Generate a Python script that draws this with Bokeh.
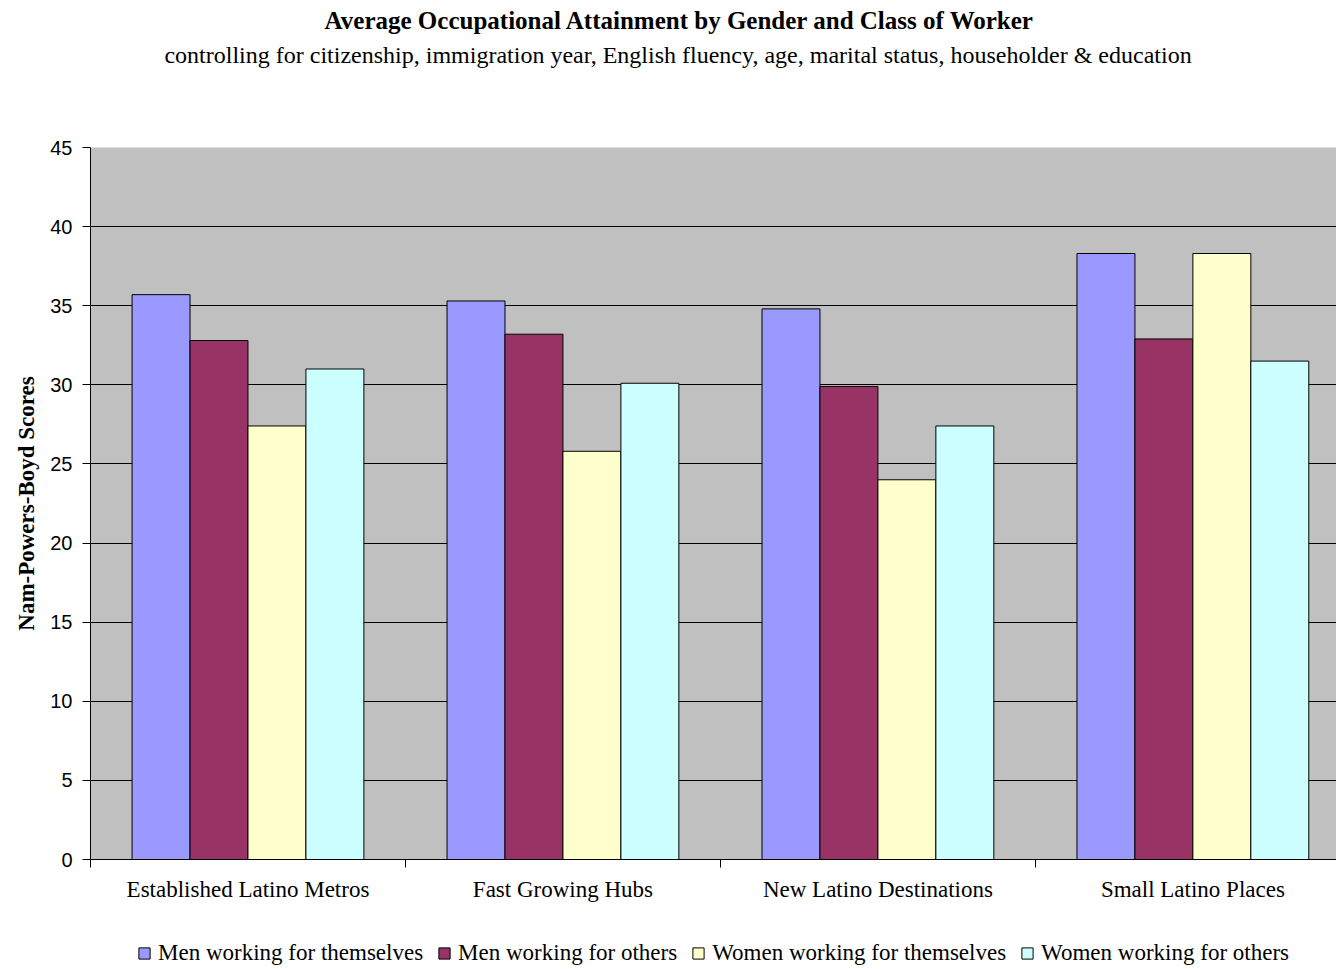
import numpy as np
from bokeh.plotting import figure
from bokeh.layouts import column
from bokeh.models import (ColumnDataSource, Range1d, FixedTicker, Legend,
                          LegendItem, Label)
from bokeh.transform import dodge
from bokeh.embed import file_html
from bokeh.resources import INLINE

categories = ["Established Latino Metros", "Fast Growing Hubs",
              "New Latino Destinations", "Small Latino Places"]
series_names = ["Men working for themselves", "Men working for others",
                "Women working for themselves", "Women working for others"]
men_self = [35.7, 35.3, 34.8, 38.3]
men_others = [32.8, 33.2, 29.9, 32.9]
women_self = [27.4, 25.8, 24.0, 38.3]
women_others = [31.0, 30.1, 27.4, 31.5]
colors = ["#9999FF", "#993366", "#FFFFCC", "#CCFFFF"]
y_ticks = [0, 5, 10, 15, 20, 25, 30, 35, 40, 45]

title_text = "Average Occupational Attainment by Gender and Class of Worker"
subtitle_text = ("controlling for citizenship, immigration year, English fluency, "
                 "age, marital status, householder & education")
y_label = "Nam-Powers-Boyd Scores"

xc = np.arange(len(categories)) + 0.5
src = ColumnDataSource(dict(x=xc, s0=men_self, s1=men_others,
                            s2=women_self, s3=women_others))
keys = ["s0", "s1", "s2", "s3"]
bar_w = 0.184
offsets = [-1.5 * bar_w, -0.5 * bar_w, 0.5 * bar_w, 1.5 * bar_w]

# ---------------- title strip ----------------
W = 1336
TOP_H = 135
pt = figure(width=W, height=TOP_H, x_range=Range1d(0, W),
            y_range=Range1d(0, TOP_H), output_backend="svg",
            toolbar_location=None, x_axis_location=None,
            y_axis_location=None, min_border=0)
pt.outline_line_color = None
pt.grid.visible = False
pt.add_layout(Label(x=632, y=TOP_H - 20, text=title_text,
                    text_align="center", text_baseline="middle",
                    text_font="Liberation Serif", text_font_size="25px",
                    text_font_style="bold", text_color="black"))
pt.add_layout(Label(x=630, y=TOP_H - 54, text=subtitle_text,
                    text_align="center", text_baseline="middle",
                    text_font="Liberation Serif", text_font_size="24px",
                    text_color="black"))

# ---------------- main chart ----------------
p = figure(width=W, height=775,
           x_range=Range1d(0, 3.956), y_range=Range1d(0, 45),
           output_backend="svg", toolbar_location=None,
           min_border_left=90, min_border_right=0,
           min_border_top=12, min_border_bottom=51)
p.background_fill_color = "#C0C0C0"
p.border_fill_color = "white"
p.outline_line_color = None

for i, key in enumerate(keys):
    p.vbar(x=dodge("x", offsets[i]), top=key, width=bar_w, bottom=0,
           source=src, fill_color=colors[i], line_color="black",
           line_width=1)

p.xgrid.grid_line_color = None
p.ygrid.grid_line_color = "black"
p.ygrid.grid_line_width = 1
p.ygrid.ticker = FixedTicker(ticks=y_ticks)

ya = p.yaxis[0]
ya.ticker = FixedTicker(ticks=y_ticks)
ya.axis_line_color = "black"
ya.major_tick_in = 0
ya.major_tick_out = 8
ya.minor_tick_line_color = None
ya.major_label_text_font = "Liberation Sans"
ya.major_label_text_font_size = "20px"
ya.major_label_text_color = "black"
ya.major_label_standoff = 10
ya.axis_label = y_label
ya.axis_label_text_font = "Liberation Serif"
ya.axis_label_text_font_style = "bold"
ya.axis_label_text_font_size = "23px"
ya.axis_label_text_color = "black"
ya.axis_label_standoff = 8

xa = p.xaxis[0]
xa.ticker = FixedTicker(ticks=list(xc), minor_ticks=[0, 1, 2, 3, 4])
xa.major_label_overrides = {float(v): c for v, c in zip(xc, categories)}
xa.major_tick_line_color = None
xa.major_tick_in = 0
xa.major_tick_out = 8
xa.minor_tick_in = 0
xa.minor_tick_out = 8
xa.minor_tick_line_color = "black"
xa.axis_line_color = "black"
xa.major_label_text_font = "Liberation Serif"
xa.major_label_text_font_size = "23px"
xa.major_label_text_color = "black"
xa.major_label_standoff = 9

# ---------------- legend strip ----------------
pl = figure(width=W, height=59, x_range=Range1d(0, 3.956),
            y_range=Range1d(100, 101), output_backend="svg",
            toolbar_location=None, x_axis_location=None,
            y_axis_location=None, min_border_left=90, min_border_right=0,
            min_border_top=0, min_border_bottom=0)
pl.outline_line_color = None
pl.grid.visible = False
leg_renderers = []
for i, key in enumerate(keys):
    r = pl.vbar(x=dodge("x", offsets[i]), top=key, width=bar_w, bottom=0,
                source=src, fill_color=colors[i], line_color="black",
                line_width=1)
    leg_renderers.append(r)

legend = Legend(items=[LegendItem(label=n, renderers=[r])
                       for n, r in zip(series_names, leg_renderers)],
                orientation="horizontal", location="bottom_center",
                glyph_width=14, glyph_height=14,
                label_text_font="Liberation Serif",
                label_text_font_size="23px", label_text_color="black",
                label_standoff=7, spacing=14, padding=0,
                border_line_color=None, background_fill_alpha=0,
                margin=3)
pl.add_layout(legend, "center")

layout = column(pt, p, pl, spacing=0)
open("out.html", "w").write(file_html(layout, INLINE))
